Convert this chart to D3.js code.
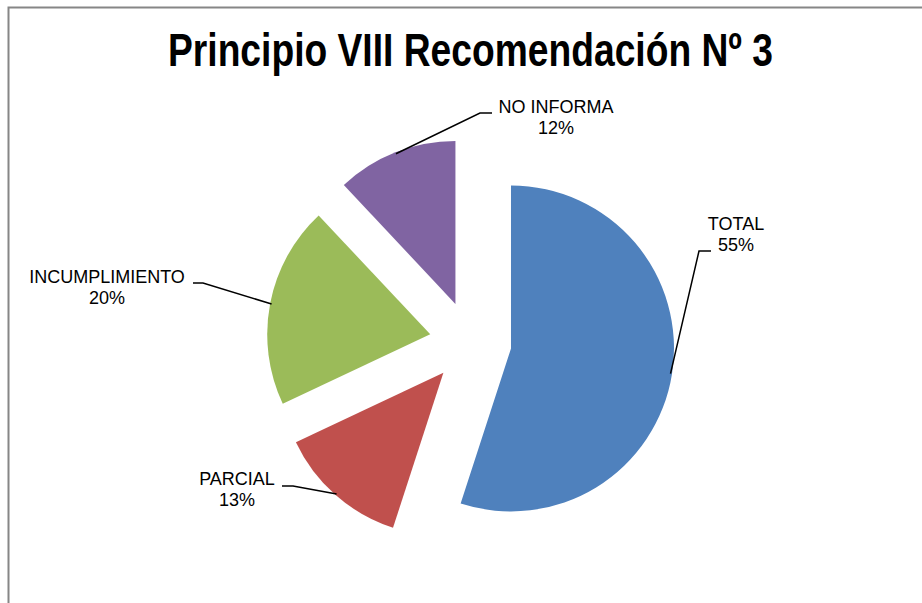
<!DOCTYPE html>
<html>
<head>
<meta charset="utf-8">
<script src="https://cdn.jsdelivr.net/npm/d3@7"></script>
<style>
  html, body { margin: 0; padding: 0; background: #fff; overflow: hidden; }
  svg { display: block; font-family: "Liberation Sans", Arial, sans-serif; }
</style>
</head>
<body>
<svg id="chart" width="922" height="603"></svg>
<script>
const title = 'Principio VIII Recomendación Nº 3';
const categories = ['TOTAL', 'PARCIAL', 'INCUMPLIMIENTO', 'NO INFORMA'];
const values = [55, 13, 20, 12];
const colors = ['#4F81BD', '#C0504D', '#9BBB59', '#8064A2'];

// label placement (annotation layout, not data)
const labelLayout = [
  { tx: 736, ty: 230, elbow: [699, 251], end: [711, 251] },
  { tx: 237, ty: 485, elbow: [293, 486], end: [282, 486] },
  { tx: 107, ty: 283, elbow: [203, 283], end: [193, 283] },
  { tx: 556, ty: 113, elbow: [480, 113], end: [492, 113] }
];

const svg = d3.select('#chart');
const W = 922, H = 603;
const cx = 470.5, cy = 342, R = 163, explode = 41;

// chart frame
svg.append('rect')
  .attr('x', 8.5).attr('y', 7.5)
  .attr('width', W + 20).attr('height', H + 20)
  .attr('fill', '#fff')
  .attr('stroke', '#868686')
  .attr('stroke-width', 2);

// title
svg.append('text')
  .attr('x', 168).attr('y', 66)
  .attr('font-size', 46)
  .attr('font-weight', 'bold')
  .attr('textLength', 605)
  .attr('lengthAdjust', 'spacingAndGlyphs')
  .attr('fill', '#000')
  .text(title);

const data = categories.map((c, i) => ({ name: c, value: values[i], color: colors[i] }));
const pie = d3.pie().sort(null).value(d => d.value).startAngle(0).endAngle(2 * Math.PI);
const arcs = pie(data);
const arc = d3.arc().innerRadius(0).outerRadius(R);

const g = svg.append('g').attr('transform', `translate(${cx},${cy})`);

function offset(d, r) {
  const a = (d.startAngle + d.endAngle) / 2;
  return [Math.sin(a) * r, -Math.cos(a) * r];
}

g.selectAll('path.slice')
  .data(arcs)
  .join('path')
  .attr('class', 'slice')
  .attr('transform', d => `translate(${offset(d, explode)})`)
  .attr('d', arc)
  .attr('fill', d => d.data.color);

// leader lines
const lines = svg.append('g');
arcs.forEach((d, i) => {
  const L = labelLayout[i];
  const o = offset(d, explode);
  const p = offset(d, R - 1.5);
  const start = [cx + o[0] + p[0], cy + o[1] + p[1]];
  lines.append('path')
    .attr('d', d3.line()([start, L.elbow, L.end]))
    .attr('fill', 'none')
    .attr('stroke', '#000')
    .attr('stroke-width', 1.5);

  const t = lines.append('text')
    .attr('text-anchor', 'middle')
    .attr('font-size', 18)
    .attr('fill', '#000');
  t.append('tspan').attr('x', L.tx).attr('y', L.ty).text(d.data.name);
  t.append('tspan').attr('x', L.tx).attr('y', L.ty + 21).text(d3.format('.0%')(d.data.value / d3.sum(values)));
});
</script>
</body>
</html>
